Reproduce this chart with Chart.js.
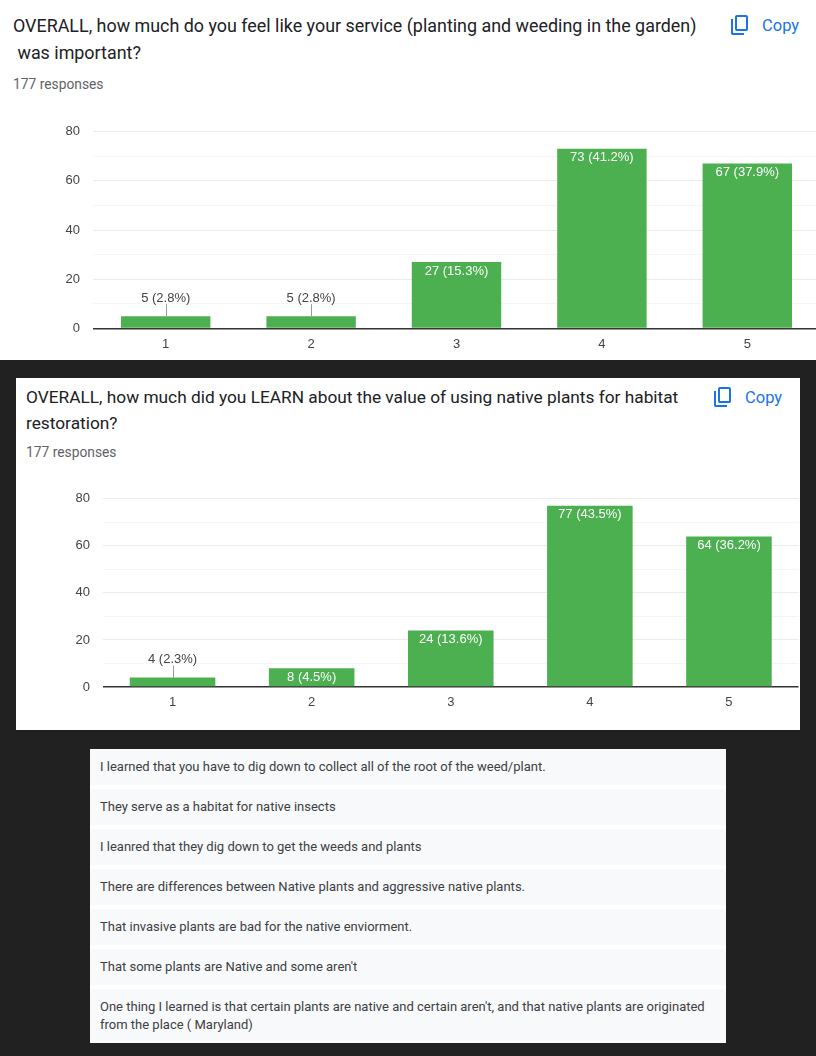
<!DOCTYPE html>
<html>
<head>
<meta charset="utf-8">
<script src="https://cdn.jsdelivr.net/npm/chart.js@4.4.1/dist/chart.umd.min.js"></script>
<style>
  html, body { margin: 0; padding: 0; }
  body {
    width: 816px; height: 1056px; overflow: hidden; position: relative;
    background: #212121; font-family: Roboto, "Noto Sans", sans-serif;
  }
  .panel { position: absolute; background: #fff; overflow: hidden; }
  .title { position: absolute; line-height: 27px; color: #202124; white-space: pre; }
  .count { position: absolute; font-size: 13.8px; color: #5f6368; }
  .copy { position: absolute; display: flex; align-items: center; color: #1a73e8; font-size: 16.5px; }
  .copy svg { margin-right: 10px; }
  canvas { position: absolute; }
  #answers {
    position: absolute; left: 90px; top: 749px; width: 636px; height: 294px;
    background: #fff; overflow: hidden;
  }
  #answers div {
    background: #f8f9fa; margin-bottom: 4px; padding: 9px 10px;
    font-size: 13px; line-height: 18px; color: #3c4043;
  }
</style>
</head>
<body>

<div class="panel" style="left:0;top:0;width:816px;height:360px">
  <div class="title" style="left:13px;top:12px;font-size:17.9px">OVERALL, how much do you feel like your service (planting and weeding in the garden)
 was important?</div>
  <div class="count" style="left:13px;top:76px">177 responses</div>
  <div class="copy" style="left:728px;top:13px">
    <svg width="24" height="24" viewBox="0 0 24 24"><path fill="#1a73e8" d="M9 18q-.825 0-1.412-.587Q7 16.825 7 16V4q0-.825.588-1.413Q8.175 2 9 2h9q.825 0 1.413.587Q20 3.175 20 4v12q0 .825-.587 1.413Q18.825 18 18 18Zm0-2h9V4H9v12Zm-4 6q-.825 0-1.413-.587Q3 20.825 3 20V6h2v14h11v2Z"/></svg>Copy
  </div>
  <canvas id="service-canvas" width="830" height="250" style="left:0;top:110px;width:830px;height:250px"></canvas>
</div>

<div class="panel" style="left:16px;top:378px;width:784px;height:352px">
  <div class="title" style="left:10px;top:6px;font-size:17.3px;line-height:26px">OVERALL, how much did you LEARN about the value of using native plants for habitat
restoration?</div>
  <div class="count" style="left:10px;top:66px">177 responses</div>
  <div class="copy" style="left:695px;top:7px">
    <svg width="24" height="24" viewBox="0 0 24 24"><path fill="#1a73e8" d="M9 18q-.825 0-1.412-.587Q7 16.825 7 16V4q0-.825.588-1.413Q8.175 2 9 2h9q.825 0 1.413.587Q20 3.175 20 4v12q0 .825-.587 1.413Q18.825 18 18 18Zm0-2h9V4H9v12Zm-4 6q-.825 0-1.413-.587Q3 20.825 3 20V6h2v14h11v2Z"/></svg>Copy
  </div>
  <canvas id="learn-canvas" width="784" height="252" style="left:0;top:100px;width:784px;height:252px"></canvas>
</div>

<div id="answers"></div>

<script>
// survey data
const scaleLabels = ['1', '2', '3', '4', '5'];
const serviceCounts = [5, 5, 27, 73, 67];
const learnCounts = [4, 8, 24, 77, 64];
const totalResponses = 177;
const yMax = 80;
const yStep = 10;

const learnedAnswers = [
  'I learned that you have to dig down to collect all of the root of the weed/plant.',
  'They serve as a habitat for native insects',
  'I leanred that they dig down to get the weeds and plants',
  'There are differences between Native plants and aggressive native plants.',
  'That invasive plants are bad for the native enviorment.',
  "That some plants are Native and some aren't",
  "One thing I learned is that certain plants are native and certain aren't, and that native plants are originated from the place ( Maryland)"
];

const answersBox = document.querySelector('#answers');
learnedAnswers.forEach((text) => {
  const row = document.createElement('div');
  row.textContent = text;
  answersBox.appendChild(row);
});

const labelFont = '13px "Liberation Sans", Arial, sans-serif';

// count (pct%) labels, inside the bar when it fits, else above with a little leader
const barLabels = {
  id: 'barLabels',
  afterDatasetsDraw(chart) {
    const ctx = chart.ctx;
    const meta = chart.getDatasetMeta(0);
    const counts = chart.data.datasets[0].data;
    ctx.save();
    ctx.font = labelFont;
    ctx.textAlign = 'center';
    ctx.textBaseline = 'middle';
    meta.data.forEach((bar, i) => {
      const text = counts[i] + ' (' + (counts[i] / totalResponses * 100).toFixed(1) + '%)';
      const h = bar.base - bar.y;
      if (h >= 16) {
        ctx.fillStyle = '#fff';
        ctx.fillText(text, bar.x, bar.y + 9);
      } else {
        ctx.strokeStyle = '#999';
        ctx.lineWidth = 1;
        ctx.beginPath();
        ctx.moveTo(Math.round(bar.x) + 0.5, bar.y);
        ctx.lineTo(Math.round(bar.x) + 0.5, bar.y - 12);
        ctx.stroke();
        ctx.fillStyle = '#444';
        ctx.fillText(text, bar.x, bar.y - 18);
      }
    });
    ctx.restore();
  }
};

const makeChart = (canvas, counts, pad, yWidth, xHeight) => {
  return new Chart(canvas, {
    type: 'bar',
    data: {
      labels: scaleLabels,
      datasets: [{
        data: counts,
        backgroundColor: '#4caf50',
        categoryPercentage: 1,
        barPercentage: 0.615
      }]
    },
    options: {
      responsive: false,
      animation: false,
      devicePixelRatio: 1,
      layout: { padding: pad },
      plugins: { legend: { display: false }, tooltip: { enabled: false } },
      scales: {
        x: {
          grid: { display: false },
          border: { display: false },
          ticks: { color: '#444', padding: 0, font: { family: '"Liberation Sans", Arial', size: 13 } },
          afterFit: (scale) => { scale.height = xHeight; }
        },
        y: {
          min: 0,
          max: yMax,
          border: { display: false },
          grid: {
            drawTicks: false,
            color: (c) => c.tick.value === 0 ? '#333' : (c.tick.value % 20 === 0 ? '#ebebeb' : '#f5f5f5'),
            lineWidth: (c) => c.tick.value === 0 ? 1.4 : 1
          },
          ticks: {
            stepSize: yStep,
            padding: 13,
            color: '#444',
            font: { family: '"Liberation Sans", Arial', size: 13 },
            callback: (v) => v % 20 === 0 ? v : ''
          },
          afterFit: (scale) => { scale.width = yWidth; }
        }
      }
    },
    plugins: [barLabels]
  });
};

makeChart(document.querySelector('#service-canvas'), serviceCounts,
  { left: 0, right: 10, top: 21.5, bottom: 0 }, 93, 31.5);
makeChart(document.querySelector('#learn-canvas'), learnCounts,
  { left: 0, right: 1.5, top: 20, bottom: 11.5 }, 87, 31.5);
</script>
</body>
</html>
